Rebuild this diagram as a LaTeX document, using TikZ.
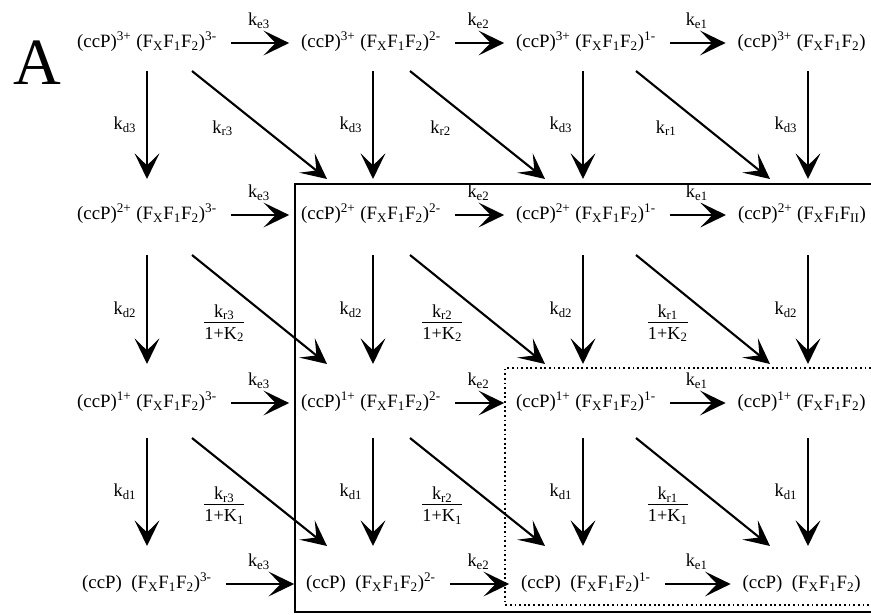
\documentclass[tikz,border=0pt]{standalone}
\usepackage{fontspec}
\setmainfont{Liberation Serif}
\usetikzlibrary{arrows.meta, calc}
\newcommand{\cpx}[2]{(ccP)\textsuperscript{#1} (F\textsubscript{X}F\textsubscript{1}F\textsubscript{2})\textsuperscript{#2}}
\newcommand{\cpz}[1]{(ccP)\enspace(F\textsubscript{X}F\textsubscript{1}F\textsubscript{2})\textsuperscript{#1}}
\newcommand{\rfrac}[2]{\begin{tabular}{@{}c@{}}#1\\[-1pt]\hline\rule{0pt}{12pt}#2\end{tabular}}
\tikzset{
  every picture/.style={line width=1.2pt},
  species/.style={inner sep=0pt, outer sep=0pt, text height=10pt, text depth=3.5pt, font=\fontsize{13.4}{16}\selectfont},
  rxn/.style={-{Stealth[length=0.64cm, width=0.62cm, inset=0.3cm]}, line width=1.5pt},
  rate/.style={font=\fontsize{13}{14}\selectfont, inner sep=1pt},
}

\begin{document}
\begin{tikzpicture}[x=0.025cm, y=-0.025cm]
  \useasboundingbox (0,0) rectangle (871,614);
  \node[font=\fontsize{47}{50}\selectfont] (panel) at (37,63) {A};
  % species: rows = charge on ccP, columns = charge on FXF1F2
  \node[species] (s11) at (147,43) {\cpx{3+}{3-}};
  \node[species] (s12) at (371,43) {\cpx{3+}{2-}};
  \node[species] (s13) at (586,43) {\cpx{3+}{1-}};
  \node[species] (s14) at (802,43) {\cpx{3+}{}};
  \node[species] (s21) at (147,215) {\cpx{2+}{3-}};
  \node[species] (s22) at (371,215) {\cpx{2+}{2-}};
  \node[species] (s23) at (586,215) {\cpx{2+}{1-}};
  \node[species] (s24) at (802,215) {(ccP)\textsuperscript{2+} (F\textsubscript{X}F\textsubscript{I}F\textsubscript{II})};
  \node[species] (s31) at (147,403) {\cpx{1+}{3-}};
  \node[species] (s32) at (371,403) {\cpx{1+}{2-}};
  \node[species] (s33) at (586,403) {\cpx{1+}{1-}};
  \node[species] (s34) at (802,403) {\cpx{1+}{}};
  \node[species] (s41) at (147,584) {\cpz{3-}};
  \node[species] (s42) at (371,584) {\cpz{2-}};
  \node[species] (s43) at (586,584) {\cpz{1-}};
  \node[species] (s44) at (802,584) {\cpz{}};
  % electron transfer along each row
  \foreach \r in {1,...,4} {
    \foreach \a/\b/\k in {1/2/3, 2/3/2, 3/4/1} {
      \draw[rxn, shorten <=0.35cm, shorten >=0.3cm] (s\r\a.east) -- (s\r\a.east -| s\r\b.west)
        node[rate, midway, yshift=0.55cm] {k\textsubscript{e\k}};
    }
  }
  % decay (down) and recombination (diagonal)
  \foreach \r/\rn/\sy/\ey in {1/2/28/-36, 2/3/40/-39, 3/4/35/-38} {
    \pgfmathtruncatemacro{\d}{4-\r}
    \foreach \c/\vx in {1/0, 2/2, 3/-3, 4/6} {
      \draw[rxn] ($(s\r\c)+(\vx,\sy)$) -- ($(s\rn\c)+(\vx,\ey)$)
        node[rate, midway, xshift=-0.55cm] {k\textsubscript{d\d}};
    }
    \foreach \c/\cn/\sx/\ex in {1/2/45/-44, 2/3/39/-41, 3/4/50/-32} {
      \pgfmathtruncatemacro{\q}{4-\c}
      \ifnum\r=1
        \draw[rxn] ($(s\r\c)+(\sx,\sy)$) -- ($(s\rn\cn)+(\ex,\ey)$)
          node[rate, midway, xshift=-0.92cm, yshift=-0.08cm] {k\textsubscript{r\q}};
      \else
        \draw[rxn] ($(s\r\c)+(\sx,\sy)$) -- ($(s\rn\cn)+(\ex,\ey)$)
          node[rate, midway, xshift=-0.88cm, yshift=-0.37cm] {\rfrac{k\textsubscript{r\q}}{1+K\textsubscript{\d}}};
      \fi
    }
  }
  % solid and dotted frames, open at the right edge
  \draw[line width=1.4pt] (871,184) -- (295,184) -- (295,612) -- (871,612);
  \draw[line width=1.3pt, dotted] (871,368) -- (505,368) -- (505,605) -- (871,605);
\end{tikzpicture}
\end{document}
